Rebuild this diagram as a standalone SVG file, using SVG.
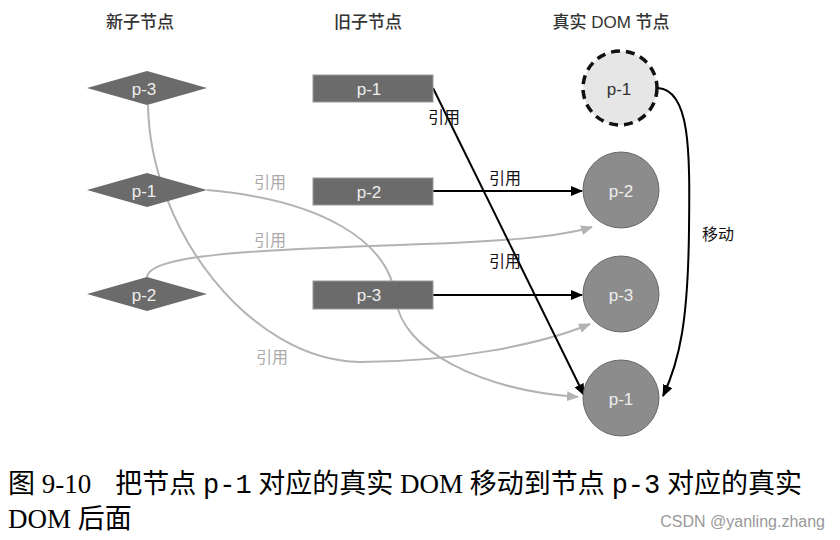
<svg xmlns="http://www.w3.org/2000/svg" width="840" height="540" viewBox="0 0 840 540">
<defs>
<marker id="ab" viewBox="0 0 12 10" refX="11" refY="5" markerWidth="12" markerHeight="10" markerUnits="userSpaceOnUse" orient="auto"><path d="M0,0 L12,5 L0,10 z" fill="#000"/></marker>
<marker id="ag" viewBox="0 0 12 10" refX="11" refY="5" markerWidth="12" markerHeight="10" markerUnits="userSpaceOnUse" orient="auto"><path d="M0,0 L12,5 L0,10 z" fill="#b3b3b3"/></marker>
<style>
.hdr{font-family:"Liberation Sans","Noto Sans CJK SC",sans-serif;font-size:17px;fill:#333;text-anchor:middle;font-weight:500}
.nt{font-family:"Liberation Sans",sans-serif;font-size:17px;fill:#eee;text-anchor:middle;dominant-baseline:central}
.dia{fill:#6b6b6b}
.rc{fill:#6b6b6b;stroke:#999;stroke-width:1}
.cir{fill:#8c8c8c;stroke:#666;stroke-width:1}
.lb{font-family:"Liberation Sans","Noto Sans CJK SC",sans-serif;font-size:16px;fill:#111}
.lg{font-family:"Liberation Sans","Noto Sans CJK SC",sans-serif;font-size:16px;fill:#aaa}
.cb{fill:none;stroke:#000;stroke-width:2}
.cg{fill:none;stroke:#b3b3b3;stroke-width:2}
.cap{font-family:"Liberation Serif","Noto Sans CJK SC",serif;font-size:27px;fill:#000}
.mono{font-family:"Liberation Mono",monospace}
</style>
</defs>
<rect width="840" height="540" fill="#fff"/>
<text class="hdr" x="140" y="28">新子节点</text>
<text class="hdr" x="368" y="28">旧子节点</text>
<text class="hdr" x="611" y="28">真实 DOM 节点</text>

<g id="connectors">
<path class="cg" d="M148 105 C150 230 250 360 360 362 C450 362 540 345 590 324" marker-end="url(#ag)"/>
<path class="cg" d="M207 190 C320 200 390 240 396 300 C402 350 480 390 578 397" marker-end="url(#ag)"/>
<path class="cg" d="M147 277 C150 255 250 250 400 245 C500 242 560 237 592 227" marker-end="url(#ag)"/>
<path class="cb" d="M433 88 L584 395" marker-end="url(#ab)"/>
<path class="cb" d="M433 191 L582 191" marker-end="url(#ab)"/>
<path class="cb" d="M433 295 L582 295" marker-end="url(#ab)"/>
<path class="cb" d="M658 88 C690 90 690 150 689 230 C688 320 680 360 663 396" marker-end="url(#ab)"/>
<text class="lb" x="428" y="123">引用</text>
<text class="lb" x="489" y="184">引用</text>
<text class="lb" x="489" y="267">引用</text>
<text class="lb" x="702" y="240">移动</text>
<text class="lg" x="254" y="188">引用</text>
<text class="lg" x="254" y="246">引用</text>
<text class="lg" x="256" y="363">引用</text>
</g>

<g id="new-p3"><polygon class="dia" points="87,88 147,71 207,88 147,105"/><text class="nt" x="144" y="89">p-3</text></g>
<g id="new-p1"><polygon class="dia" points="87,190 147,173 207,190 147,207"/><text class="nt" x="144" y="191">p-1</text></g>
<g id="new-p2"><polygon class="dia" points="87,294 147,277 207,294 147,311"/><text class="nt" x="144" y="295">p-2</text></g>

<g id="old-p1"><rect class="rc" x="313" y="75" width="120" height="27"/><text class="nt" x="369" y="89">p-1</text></g>
<g id="old-p2"><rect class="rc" x="313" y="178" width="120" height="27"/><text class="nt" x="369" y="192">p-2</text></g>
<g id="old-p3"><rect class="rc" x="313" y="281" width="120" height="28"/><text class="nt" x="369" y="295">p-3</text></g>

<g id="dom-p1-old"><circle cx="620" cy="88" r="37" fill="#e6e6e6" stroke="#111" stroke-width="3.5" stroke-dasharray="9,6"/><text class="nt" x="619" y="89" style="fill:#333">p-1</text></g>
<g id="dom-p2"><circle class="cir" cx="621" cy="190" r="38"/><text class="nt" x="621" y="191">p-2</text></g>
<g id="dom-p3"><circle class="cir" cx="621" cy="294" r="38"/><text class="nt" x="621" y="295">p-3</text></g>
<g id="dom-p1"><circle class="cir" cx="621" cy="398" r="38"/><text class="nt" x="621" y="399">p-1</text></g>

<text class="cap" x="8" y="493">图 9-10<tspan dx="24">把节点 </tspan><tspan class="mono">p-1</tspan> 对应的真实 DOM 移动到节点 <tspan class="mono">p-3</tspan> 对应的真实</text>
<text class="cap" x="8" y="528">DOM 后面</text>
<text x="825" y="527" text-anchor="end" font-family="Liberation Sans,sans-serif" font-size="16" fill="#999">CSDN @yanling.zhang</text>
</svg>
